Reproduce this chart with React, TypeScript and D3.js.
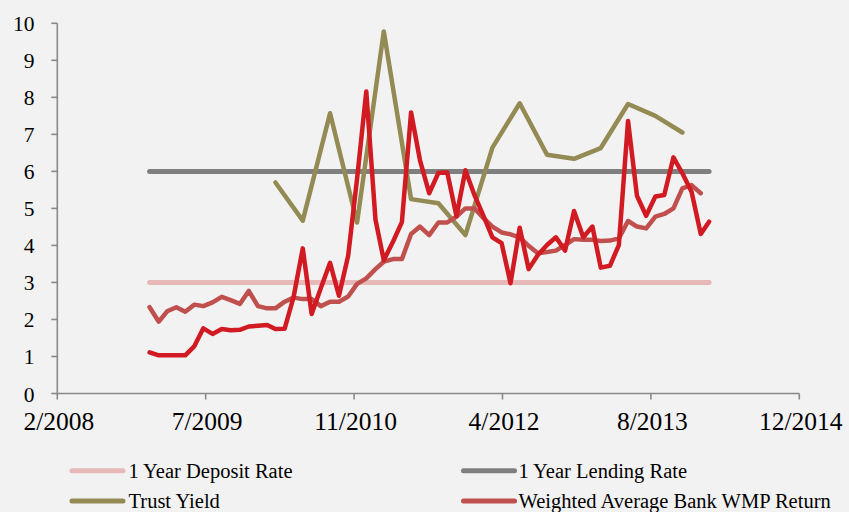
import React from "react";
import * as d3 from "d3";

// ---- Data ----
const wmpStart = "2009-01"; // first month of monthly series
const bankWmpReturn = [
  1.11, 1.03, 1.03, 1.03, 1.03, 1.28, 1.76, 1.61, 1.74, 1.71,
  1.72, 1.81, 1.83, 1.85, 1.74, 1.75, 2.6, 3.92, 2.15, 2.85,
  3.53, 2.64, 3.72, 5.8, 8.16, 4.7, 3.6, 4.1, 4.63, 7.59,
  6.3, 5.41, 5.96, 5.97, 4.79, 6.03, 5.35, 4.78, 4.22, 4.06,
  2.98, 4.48, 3.36, 3.74, 4.01, 4.22, 3.86, 4.93, 4.22, 4.51,
  3.4, 3.45, 4.01, 7.36, 5.34, 4.8, 5.32, 5.36, 6.38, 5.95,
  5.45, 4.31, 4.64,
];
const weightedAvgReturn = [
  2.33, 1.94, 2.22, 2.33, 2.21, 2.4, 2.36, 2.46, 2.61, 2.52,
  2.42, 2.77, 2.36, 2.3, 2.3, 2.48, 2.59, 2.55, 2.55, 2.36,
  2.48, 2.48, 2.62, 2.96, 3.11, 3.36, 3.56, 3.63, 3.63, 4.31,
  4.51, 4.28, 4.62, 4.62, 4.78, 5.0, 5.0, 4.73, 4.51, 4.35,
  4.3, 4.22, 3.99, 3.79, 3.82, 3.86, 4.01, 4.17, 4.15, 4.15,
  4.12, 4.13, 4.19, 4.66, 4.51, 4.46, 4.78, 4.85, 5.0, 5.54,
  5.63, 5.41,
];
const trustMonths = [
  "2010-03", "2010-06", "2010-09", "2010-12", "2011-03", "2011-06",
  "2011-09", "2011-12", "2012-03", "2012-06", "2012-09", "2012-12",
  "2013-03", "2013-06", "2013-09", "2013-12",
];
const trustYield = [
  5.7, 4.67, 7.57, 4.62, 9.78, 5.25, 5.14, 4.28, 6.64, 7.84, 6.45, 6.34,
  6.63, 7.82, 7.5, 7.05,
];
const rateMonths = ["2009-01", "2014-03"];
const depositRate = [3, 3];
const lendingRate = [6, 6];

const axisStart = "2008-02-25";
const axisEnd = "2014-12-30";
const tickStepDays = 500;
const yTicks = [0, 1, 2, 3, 4, 5, 6, 7, 8, 9, 10];

const legendItems = [
  { label: "1 Year Deposit Rate", color: "#E6B9B8" },
  { label: "1 Year Lending Rate", color: "#7F7F7F" },
  { label: "Trust Yield", color: "#948A54" },
  { label: "Weighted Average Bank WMP Return", color: "#C0504D" },
];

const parseMonth = d3.timeParse("%Y-%m");
const parseDay = d3.timeParse("%Y-%m-%d");

type Pt = { date: Date; value: number };

export default function App() {
  const W = 849;
  const H = 512;
  const x0 = 57.3;
  const x1 = 799.3;
  const yTop = 23.3;
  const yBot = 393.5;
  const axisColor = "#898989";
  const font = "'Liberation Serif', 'Times New Roman', serif";

  const start = parseDay(axisStart) as Date;
  const end = parseDay(axisEnd) as Date;
  const x = d3.scaleTime().domain([start, end]).range([x0, x1]);
  const y = d3.scaleLinear().domain([0, 10]).range([yBot, yTop]);

  const xTicks = d3.range(0, 6).map((i) => d3.timeDay.offset(start, i * tickStepDays));
  const fmt = d3.timeFormat("%-m/%Y");

  const m0 = parseMonth(wmpStart) as Date;
  const monthly = (vals: number[]): Pt[] =>
    vals.map((v, i) => ({ date: d3.timeMonth.offset(m0, i), value: v }));
  const dated = (months: string[], vals: number[]): Pt[] =>
    months.map((m, i) => ({ date: parseMonth(m) as Date, value: vals[i] }));

  const line = d3
    .line<Pt>()
    .x((d) => x(d.date))
    .y((d) => y(d.value));

  const series = [
    { data: dated(rateMonths, depositRate), color: "#E6B9B8", w: 5 },
    { data: dated(rateMonths, lendingRate), color: "#7F7F7F", w: 5 },
    { data: dated(trustMonths, trustYield), color: "#948A54", w: 4.5 },
    { data: monthly(weightedAvgReturn), color: "#C0504D", w: 4.5 },
    { data: monthly(bankWmpReturn), color: "#D11A21", w: 4.5 },
  ];

  const legendPos = [
    { lx: 72, ly: 470.7, tx: 128.5 },
    { lx: 463.5, ly: 470.7, tx: 518.5 },
    { lx: 72, ly: 501, tx: 128.5 },
    { lx: 463.5, ly: 501, tx: 518.5 },
  ];

  return (
    <svg
      width={W}
      height={H}
      style={{ position: "absolute", left: 0, top: 0, background: "#F2F2F2" }}
    >
      <rect x={0} y={0} width={W} height={H} fill="#F2F2F2" />
      {/* axes */}
      <line x1={x0} x2={x0} y1={yTop} y2={yBot} stroke={axisColor} strokeWidth={1.6} />
      <line x1={x0} x2={x1} y1={yBot} y2={yBot} stroke={axisColor} strokeWidth={1.6} />
      {yTicks.map((t) => (
        <g key={"y" + t}>
          <line x1={x0 - 6} x2={x0} y1={y(t)} y2={y(t)} stroke={axisColor} strokeWidth={1.6} />
          <text
            x={34.5}
            y={y(t) + 8}
            textAnchor="end"
            fontFamily={font}
            fontSize={21.5}
            fill="#000"
          >
            {t}
          </text>
        </g>
      ))}
      {xTicks.map((t, i) => (
        <g key={"x" + i}>
          <line x1={x(t)} x2={x(t)} y1={yBot} y2={yBot + 6} stroke={axisColor} strokeWidth={1.6} />
          <text
            x={x(t) + 1.5}
            y={429.5}
            textAnchor="middle"
            fontFamily={font}
            fontSize={25.5}
            fill="#000"
          >
            {fmt(t)}
          </text>
        </g>
      ))}
      {/* series */}
      {series.map((s, i) => (
        <path
          key={"s" + i}
          d={line(s.data) || ""}
          fill="none"
          stroke={s.color}
          strokeWidth={s.w}
          strokeLinejoin="round"
          strokeLinecap="round"
        />
      ))}
      {/* legend */}
      {legendItems.map((it, i) => {
        const p = legendPos[i];
        return (
          <g key={"l" + i}>
            <line
              x1={p.lx}
              x2={p.lx + 51}
              y1={p.ly}
              y2={p.ly}
              stroke={it.color}
              strokeWidth={5}
              strokeLinecap="round"
            />
            <text x={p.tx} y={p.ly + 7} fontFamily={font} fontSize={20.5} fill="#000">
              {it.label}
            </text>
          </g>
        );
      })}
    </svg>
  );
}
